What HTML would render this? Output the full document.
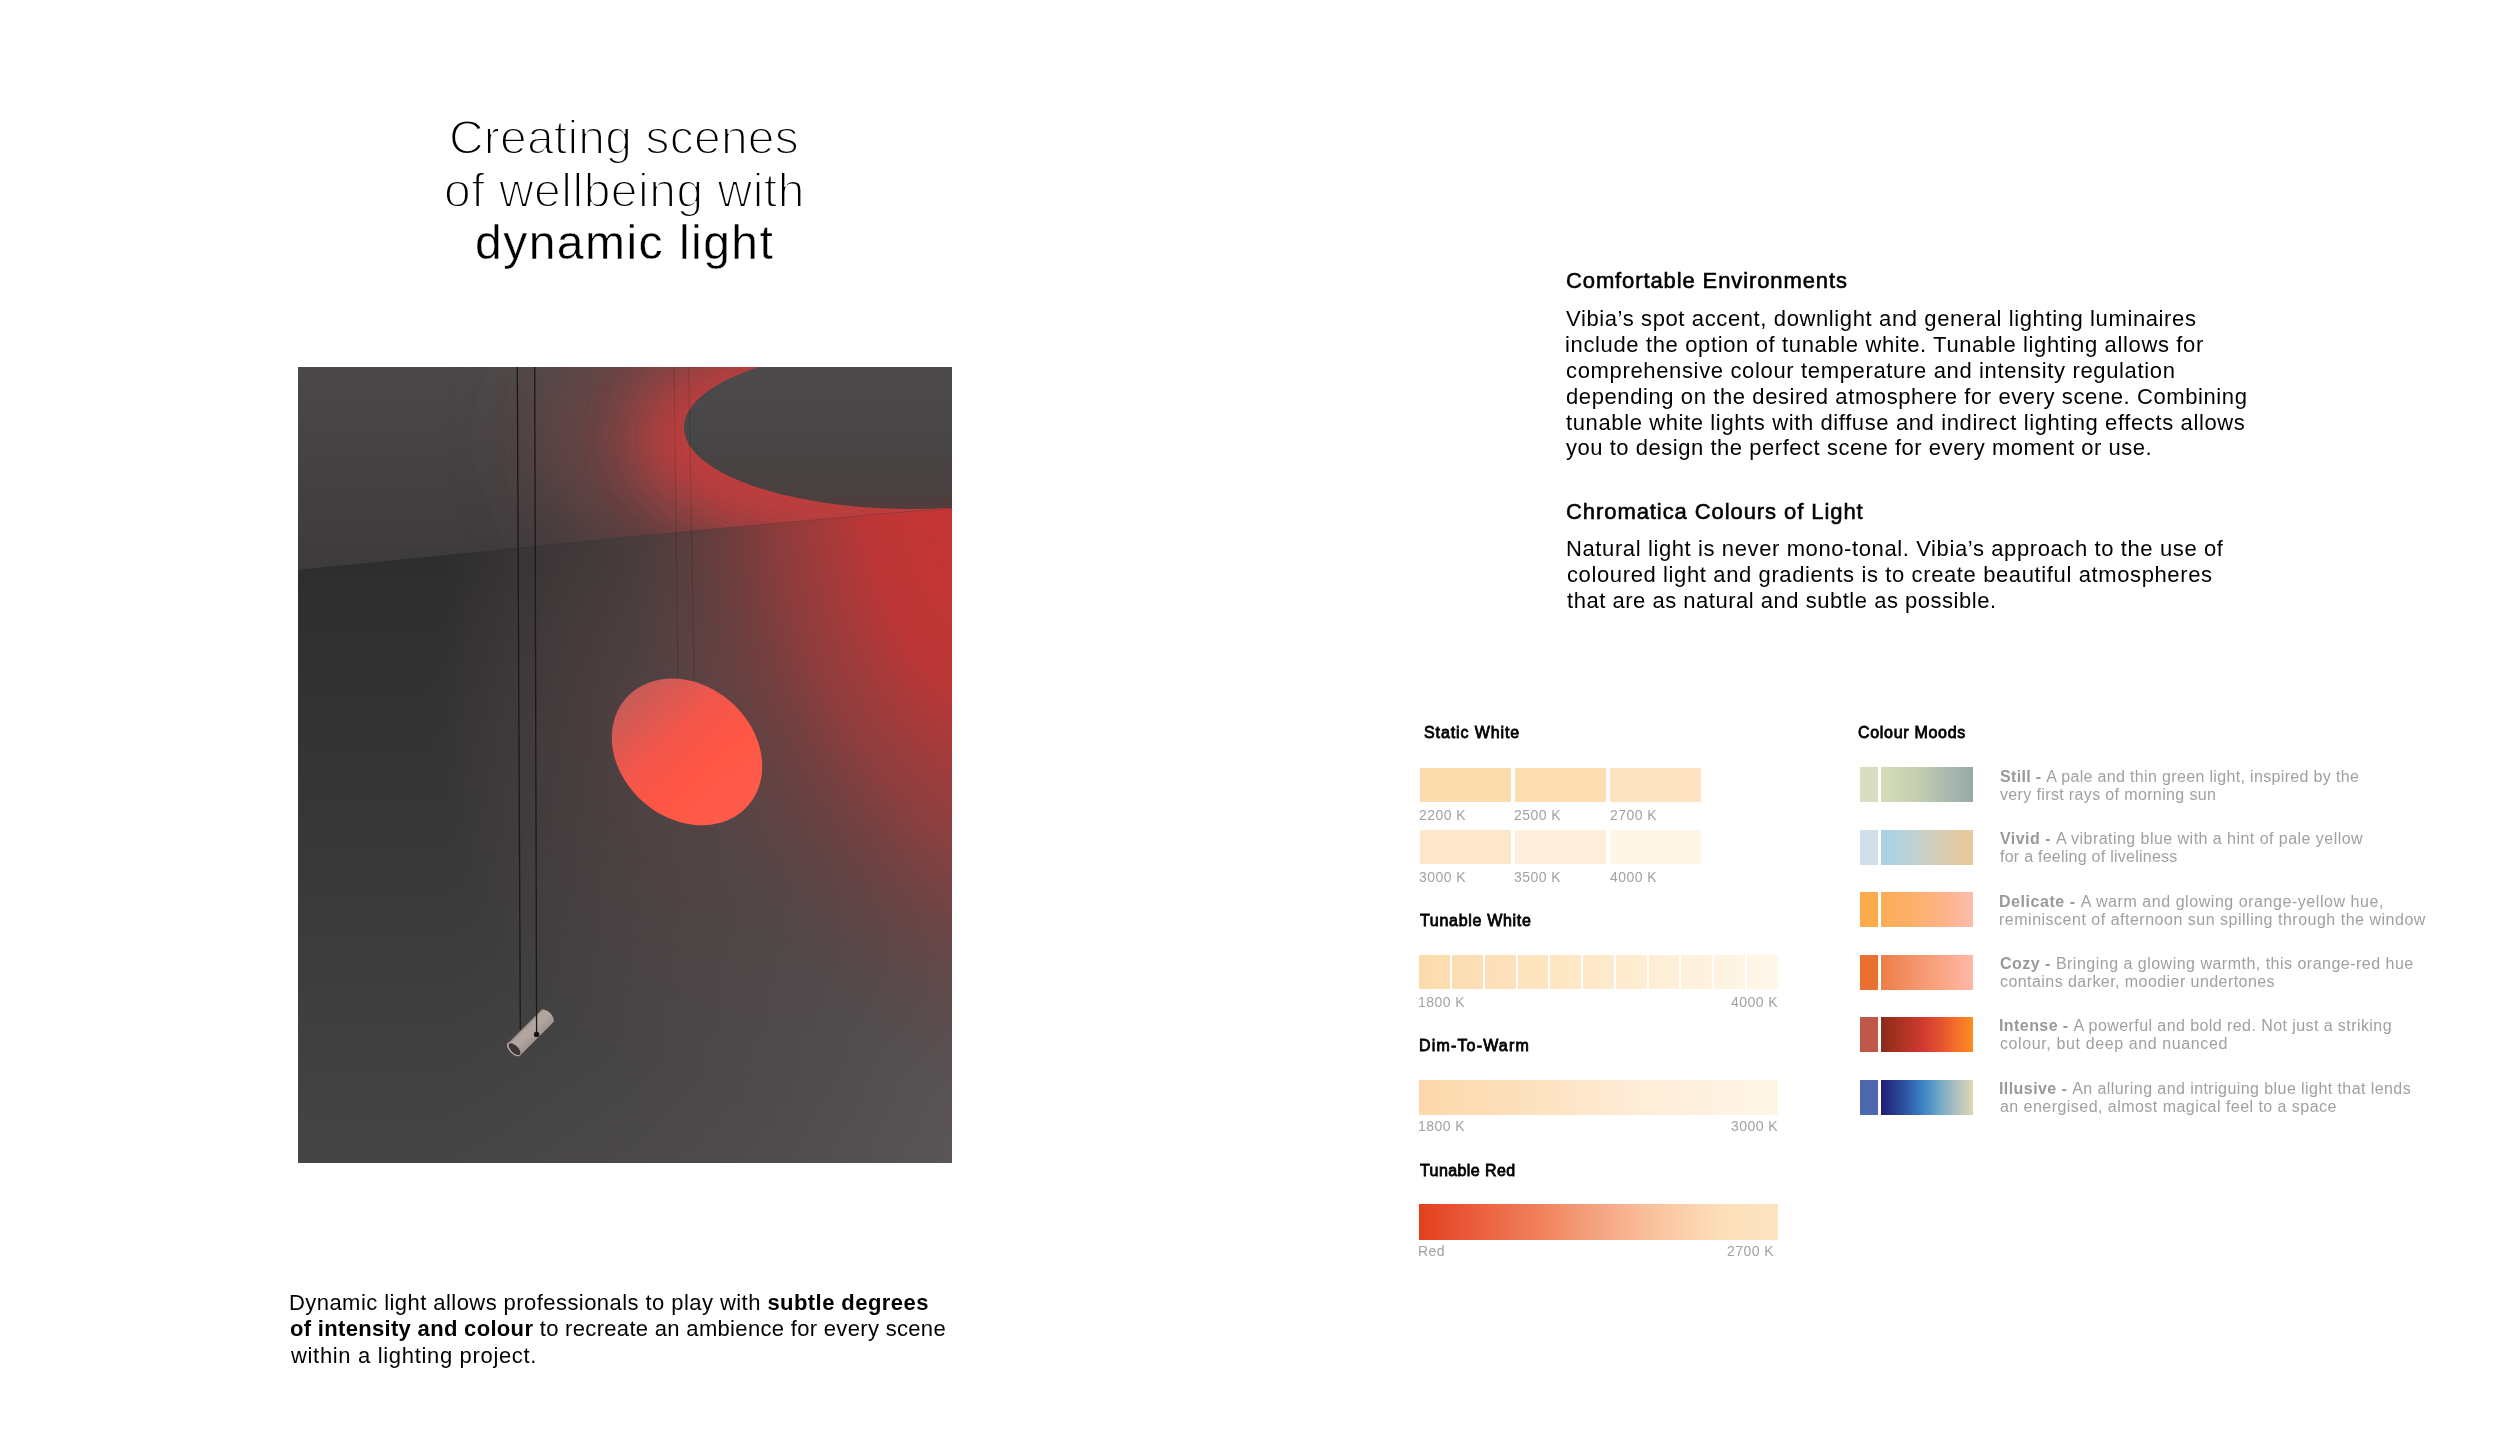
<!DOCTYPE html>
<html><head><meta charset="utf-8"><style>
html,body{margin:0;padding:0;background:#fff;}
body{width:2499px;height:1448px;position:relative;overflow:hidden;font-family:"Liberation Sans", sans-serif;}
.t{position:absolute;white-space:nowrap;will-change:transform;}
.b{position:absolute;}
</style></head><body>
<svg class="b" style="left:298px;top:367px" width="654" height="796" viewBox="0 0 654 796">
<defs>
  <linearGradient id="wallv" x1="0" y1="200" x2="0" y2="796" gradientUnits="userSpaceOnUse">
    <stop offset="0" stop-color="#2e2e2f"/>
    <stop offset="0.4" stop-color="#363637"/>
    <stop offset="1" stop-color="#464546"/>
  </linearGradient>
  <linearGradient id="wallh" x1="150" y1="0" x2="654" y2="0" gradientUnits="userSpaceOnUse">
    <stop offset="0" stop-color="#5a5052" stop-opacity="0"/>
    <stop offset="1" stop-color="#6e6466" stop-opacity="0.5"/>
  </linearGradient>
  <radialGradient id="warm" cx="430" cy="330" r="300" gradientUnits="userSpaceOnUse" gradientTransform="translate(430 330) scale(1 1.3) translate(-430 -330)">
    <stop offset="0" stop-color="#6a4a4a" stop-opacity="0.6"/>
    <stop offset="1" stop-color="#6a4a4a" stop-opacity="0"/>
  </radialGradient>
  <radialGradient id="wallred" cx="680" cy="160" r="360" gradientUnits="userSpaceOnUse" gradientTransform="translate(680 160) rotate(-14) scale(1 1.7) translate(-680 -160)">
    <stop offset="0" stop-color="#c83434" stop-opacity="1"/>
    <stop offset="0.3" stop-color="#c03636" stop-opacity="0.97"/>
    <stop offset="0.55" stop-color="#a43a3a" stop-opacity="0.72"/>
    <stop offset="0.8" stop-color="#7e3a3a" stop-opacity="0.3"/>
    <stop offset="1" stop-color="#6a3c3c" stop-opacity="0"/>
  </radialGradient>
  <linearGradient id="ceilg" x1="0" y1="0" x2="0" y2="200" gradientUnits="userSpaceOnUse">
    <stop offset="0" stop-color="#4c4849"/>
    <stop offset="1" stop-color="#3e3b3c"/>
  </linearGradient>
  <linearGradient id="discg" x1="0" y1="-20" x2="0" y2="142" gradientUnits="userSpaceOnUse">
    <stop offset="0" stop-color="#4d4b4b"/>
    <stop offset="0.6" stop-color="#474545"/>
    <stop offset="0.9" stop-color="#4a4040"/>
    <stop offset="1" stop-color="#523c3c"/>
  </linearGradient>
  <linearGradient id="redg" x1="330" y1="320" x2="430" y2="430" gradientUnits="userSpaceOnUse">
    <stop offset="0" stop-color="#c25c5a"/>
    <stop offset="0.45" stop-color="#f3564a"/>
    <stop offset="0.75" stop-color="#ff5544"/>
    <stop offset="1" stop-color="#ff5b4a"/>
  </linearGradient>
  <linearGradient id="cylg" x1="0" y1="-8.8" x2="0" y2="8.8" gradientUnits="userSpaceOnUse">
    <stop offset="0" stop-color="#8a7e7a"/>
    <stop offset="0.15" stop-color="#b0a49e"/>
    <stop offset="0.5" stop-color="#b2a6a0"/>
    <stop offset="1" stop-color="#a0948f"/>
  </linearGradient>
  <clipPath id="ceilclip"><path d="M0 0 H654 V141 Q420 160 0 203 Z"/></clipPath>
  <clipPath id="wallclip"><path d="M0 203 Q420 160 654 141 V796 H0 Z"/></clipPath>
  <filter id="bl50" x="-50%" y="-50%" width="200%" height="200%"><feGaussianBlur stdDeviation="55"/></filter>
  <filter id="bl28" x="-50%" y="-50%" width="200%" height="200%"><feGaussianBlur stdDeviation="28"/></filter>
  <filter id="bl40" x="-50%" y="-50%" width="200%" height="200%"><feGaussianBlur stdDeviation="40"/></filter>
  <filter id="bl20" x="-50%" y="-50%" width="200%" height="200%"><feGaussianBlur stdDeviation="22"/></filter>
  <filter id="bl1" x="-10%" y="-10%" width="120%" height="120%"><feGaussianBlur stdDeviation="0.8"/></filter>
</defs>
<rect width="654" height="796" fill="url(#wallv)"/>
<rect width="654" height="796" fill="url(#wallh)"/>
<rect width="654" height="796" fill="url(#warm)"/>
<rect width="654" height="796" fill="url(#wallred)"/>
<g clip-path="url(#ceilclip)">
  <rect width="654" height="210" fill="url(#ceilg)"/>
  <path d="M940.00 70.00 L939.53 78.90 L938.14 87.77 L935.81 96.59 L932.57 105.34 L928.41 114.00 L923.36 122.53 L917.42 130.92 L910.61 139.15 L902.94 147.18 L894.45 155.00 L885.15 162.59 L875.07 169.92 L864.23 176.98 L852.67 183.75 L840.42 190.21 L827.50 196.33 L813.97 202.11 L799.85 207.53 L785.18 212.57 L770.00 217.22 L754.36 221.47 L738.29 225.30 L721.85 228.71 L705.07 231.68 L688.00 234.21 L670.69 236.29 L653.19 237.91 L635.54 239.07 L617.79 239.77 L600.00 240.00 L582.21 239.77 L564.46 239.07 L546.81 237.91 L529.31 236.29 L512.00 234.21 L494.93 231.68 L478.15 228.71 L461.71 225.30 L445.64 221.47 L430.00 217.22 L414.82 212.57 L400.15 207.53 L386.03 202.11 L372.50 196.33 L359.58 190.21 L347.33 183.75 L335.77 176.98 L324.93 169.92 L314.85 162.59 L305.55 155.00 L297.06 147.18 L289.39 139.15 L282.58 130.92 L276.64 122.53 L271.59 114.00 L267.43 105.34 L264.19 96.59 L261.86 87.77 L260.47 78.90 L260.00 70.00 L260.47 61.10 L261.86 52.23 L264.19 43.41 L267.43 34.66 L271.59 26.00 L276.64 17.47 L282.58 9.08 L289.39 0.85 L297.06 -7.18 L305.55 -15.00 L314.85 -22.59 L324.93 -29.92 L335.77 -36.98 L347.33 -43.75 L359.58 -50.21 L372.50 -56.33 L386.03 -62.11 L400.15 -67.53 L414.82 -72.57 L430.00 -77.22 L445.64 -81.47 L461.71 -85.30 L478.15 -88.71 L494.93 -91.68 L512.00 -94.21 L529.31 -96.29 L546.81 -97.91 L564.46 -99.07 L582.21 -99.77 L600.00 -100.00 L617.79 -99.77 L635.54 -99.07 L653.19 -97.91 L670.69 -96.29 L688.00 -94.21 L705.07 -91.68 L721.85 -88.71 L738.29 -85.30 L754.36 -81.47 L770.00 -77.22 L785.18 -72.57 L799.85 -67.53 L813.97 -62.11 L827.50 -56.33 L840.42 -50.21 L852.67 -43.75 L864.23 -36.98 L875.07 -29.92 L885.15 -22.59 L894.45 -15.00 L902.94 -7.18 L910.61 0.85 L917.42 9.08 L923.36 17.47 L928.41 26.00 L932.57 34.66 L935.81 43.41 L938.14 52.23 L939.53 61.10 Z" fill="#8e4444" filter="url(#bl50)" opacity="0.75"/>
  <path d="M886.00 72.00 L885.63 78.18 L884.51 84.33 L882.65 90.46 L880.06 96.53 L876.73 102.54 L872.69 108.46 L867.93 114.29 L862.48 119.99 L856.35 125.57 L849.56 131.00 L842.12 136.27 L834.05 141.36 L825.38 146.26 L816.14 150.96 L806.33 155.44 L796.00 159.69 L785.18 163.70 L773.88 167.46 L762.14 170.96 L750.00 174.19 L737.49 177.14 L724.63 179.80 L711.48 182.16 L698.05 184.22 L684.40 185.98 L670.55 187.42 L656.55 188.55 L642.43 189.35 L628.24 189.84 L614.00 190.00 L599.76 189.84 L585.57 189.35 L571.45 188.55 L557.45 187.42 L543.60 185.98 L529.95 184.22 L516.52 182.16 L503.37 179.80 L490.51 177.14 L478.00 174.19 L465.86 170.96 L454.12 167.46 L442.82 163.70 L432.00 159.69 L421.67 155.44 L411.86 150.96 L402.62 146.26 L393.95 141.36 L385.88 136.27 L378.44 131.00 L371.65 125.57 L365.52 119.99 L360.07 114.29 L355.31 108.46 L351.27 102.54 L347.94 96.53 L345.35 90.46 L343.49 84.33 L342.37 78.18 L342.00 72.00 L342.37 65.82 L343.49 59.67 L345.35 53.54 L347.94 47.47 L351.27 41.46 L355.31 35.54 L360.07 29.71 L365.52 24.01 L371.65 18.43 L378.44 13.00 L385.88 7.73 L393.95 2.64 L402.62 -2.26 L411.86 -6.96 L421.67 -11.44 L432.00 -15.69 L442.82 -19.70 L454.12 -23.46 L465.86 -26.96 L478.00 -30.19 L490.51 -33.14 L503.37 -35.80 L516.52 -38.16 L529.95 -40.22 L543.60 -41.98 L557.45 -43.42 L571.45 -44.55 L585.57 -45.35 L599.76 -45.84 L614.00 -46.00 L628.24 -45.84 L642.43 -45.35 L656.55 -44.55 L670.55 -43.42 L684.40 -41.98 L698.05 -40.22 L711.48 -38.16 L724.63 -35.80 L737.49 -33.14 L750.00 -30.19 L762.14 -26.96 L773.88 -23.46 L785.18 -19.70 L796.00 -15.69 L806.33 -11.44 L816.14 -6.96 L825.38 -2.26 L834.05 2.64 L842.12 7.73 L849.56 13.00 L856.35 18.43 L862.48 24.01 L867.93 29.71 L872.69 35.54 L876.73 41.46 L880.06 47.47 L882.65 53.54 L884.51 59.67 L885.63 65.82 Z" fill="#c43c3c" filter="url(#bl28)" opacity="0.95"/>
  <path d="M842.00 60.50 L841.69 64.77 L840.75 69.02 L839.19 73.25 L837.02 77.44 L834.23 81.59 L830.84 85.68 L826.86 89.71 L822.29 93.65 L817.15 97.50 L811.45 101.25 L805.22 104.89 L798.46 108.40 L791.19 111.79 L783.44 115.03 L775.22 118.13 L766.56 121.07 L757.49 123.84 L748.02 126.43 L738.18 128.85 L728.00 131.08 L717.51 133.12 L706.74 134.95 L695.71 136.59 L684.46 138.01 L673.01 139.22 L661.40 140.22 L649.67 141.00 L637.83 141.55 L625.93 141.89 L614.00 142.00 L602.07 141.89 L590.17 141.55 L578.33 141.00 L566.60 140.22 L554.99 139.22 L543.54 138.01 L532.29 136.59 L521.26 134.95 L510.49 133.12 L500.00 131.08 L489.82 128.85 L479.98 126.43 L470.51 123.84 L461.44 121.07 L452.78 118.13 L444.56 115.03 L436.81 111.79 L429.54 108.40 L422.78 104.89 L416.55 101.25 L410.85 97.50 L405.71 93.65 L401.14 89.71 L397.16 85.68 L393.77 81.59 L390.98 77.44 L388.81 73.25 L387.25 69.02 L386.31 64.77 L386.00 60.50 L386.31 56.23 L387.25 51.98 L388.81 47.75 L390.98 43.56 L393.77 39.41 L397.16 35.32 L401.14 31.29 L405.71 27.35 L410.85 23.50 L416.55 19.75 L422.78 16.11 L429.54 12.60 L436.81 9.21 L444.56 5.97 L452.78 2.87 L461.44 -0.07 L470.51 -2.84 L479.98 -5.43 L489.82 -7.85 L500.00 -10.08 L510.49 -12.12 L521.26 -13.95 L532.29 -15.59 L543.54 -17.01 L554.99 -18.22 L566.60 -19.22 L578.33 -20.00 L590.17 -20.55 L602.07 -20.89 L614.00 -21.00 L625.93 -20.89 L637.83 -20.55 L649.67 -20.00 L661.40 -19.22 L673.01 -18.22 L684.46 -17.01 L695.71 -15.59 L706.74 -13.95 L717.51 -12.12 L728.00 -10.08 L738.18 -7.85 L748.02 -5.43 L757.49 -2.84 L766.56 -0.07 L775.22 2.87 L783.44 5.97 L791.19 9.21 L798.46 12.60 L805.22 16.11 L811.45 19.75 L817.15 23.50 L822.29 27.35 L826.86 31.29 L830.84 35.32 L834.23 39.41 L837.02 43.56 L839.19 47.75 L840.75 51.98 L841.69 56.23 Z" fill="url(#discg)"/>
</g>
<path d="M0 203 Q420 160 654 141" stroke="#1e1e1e" stroke-opacity="0.12" stroke-width="1" fill="none"/>
<path d="M450.08 438.56 L447.70 441.10 L445.16 443.49 L442.46 445.71 L439.62 447.77 L436.64 449.66 L433.53 451.37 L430.29 452.90 L426.95 454.24 L423.50 455.39 L419.95 456.35 L416.32 457.11 L412.61 457.68 L408.85 458.04 L405.02 458.20 L401.15 458.17 L397.25 457.93 L393.33 457.49 L389.39 456.86 L385.46 456.02 L381.53 454.99 L377.62 453.77 L373.75 452.36 L369.91 450.77 L366.13 449.00 L362.41 447.04 L358.77 444.92 L355.20 442.64 L351.73 440.19 L348.37 437.60 L345.11 434.86 L341.97 431.98 L338.97 428.98 L336.10 425.85 L333.37 422.61 L330.80 419.27 L328.38 415.83 L326.14 412.31 L324.06 408.72 L322.16 405.05 L320.45 401.34 L318.93 397.57 L317.59 393.78 L316.45 389.96 L315.51 386.12 L314.78 382.28 L314.24 378.45 L313.91 374.64 L313.79 370.85 L313.87 367.11 L314.16 363.41 L314.65 359.77 L315.35 356.20 L316.25 352.71 L317.35 349.31 L318.64 346.00 L320.13 342.80 L321.81 339.72 L323.67 336.76 L325.71 333.93 L327.92 331.24 L330.30 328.70 L332.84 326.31 L335.54 324.09 L338.38 322.03 L341.36 320.14 L344.47 318.43 L347.71 316.90 L351.05 315.56 L354.50 314.41 L358.05 313.45 L361.68 312.69 L365.39 312.12 L369.15 311.76 L372.98 311.60 L376.85 311.63 L380.75 311.87 L384.67 312.31 L388.61 312.94 L392.54 313.78 L396.47 314.81 L400.38 316.03 L404.25 317.44 L408.09 319.03 L411.87 320.80 L415.59 322.76 L419.23 324.88 L422.80 327.16 L426.27 329.61 L429.63 332.20 L432.89 334.94 L436.03 337.82 L439.03 340.82 L441.90 343.95 L444.63 347.19 L447.20 350.53 L449.62 353.97 L451.86 357.49 L453.94 361.08 L455.84 364.75 L457.55 368.46 L459.07 372.23 L460.41 376.02 L461.55 379.84 L462.49 383.68 L463.22 387.52 L463.76 391.35 L464.09 395.16 L464.21 398.95 L464.13 402.69 L463.84 406.39 L463.35 410.03 L462.65 413.60 L461.75 417.09 L460.65 420.49 L459.36 423.80 L457.87 427.00 L456.19 430.08 L454.33 433.04 L452.29 435.87 Z" fill="url(#redg)"/>
<path d="M219.3 0 L222.3 663" stroke="#1a1a1a" stroke-width="1.3" fill="none"/>
<path d="M376 0 L380 312" stroke="#000" stroke-opacity="0.15" stroke-width="1" fill="none"/>
<path d="M390.7 0 L396 312" stroke="#000" stroke-opacity="0.15" stroke-width="1" fill="none"/>
<g transform="translate(234 664.2) rotate(-45)">
  <path d="M-25.6 -8.8 H21 A4.6 8.8 0 0 1 21 8.8 H-25.6 Z" fill="url(#cylg)"/>
  <path d="M-25.6 -8.8 H21" stroke="#3a3232" stroke-width="0.8" stroke-opacity="0.6" fill="none"/>
  <ellipse cx="-25.6" cy="0" rx="4.4" ry="8.8" fill="#b4a8a2"/>
  <ellipse cx="-25" cy="0.3" rx="3.6" ry="7.6" fill="#3e3636"/>
</g>
<path d="M236.7 0 L238.6 667" stroke="#1a1a1a" stroke-width="1.3" fill="none"/>
<circle cx="238.6" cy="667.4" r="2.7" fill="#111"/>
</svg>
<div class="b" style="left:1419.5px;top:768px;width:91.0px;height:34px;background:#fcdbad"></div>
<div class="b" style="left:1515px;top:768px;width:91px;height:34px;background:#fdddb2"></div>
<div class="b" style="left:1610.3px;top:768px;width:91.0px;height:34px;background:#fde3c2"></div>
<div class="b" style="left:1419.5px;top:830px;width:91.0px;height:34px;background:#fde7ca"></div>
<div class="b" style="left:1515px;top:830px;width:91px;height:34px;background:#feefdc"></div>
<div class="b" style="left:1610.3px;top:830px;width:91.0px;height:34px;background:#fff6e8"></div>
<div class="b" style="left:1419.2px;top:955px;width:30.779999999999973px;height:34px;background:linear-gradient(90deg,rgb(253,218,171),rgb(253,221,177))"></div>
<div class="b" style="left:1451.98px;top:955px;width:30.779999999999973px;height:34px;background:linear-gradient(90deg,rgb(253,221,177),rgb(253,223,182))"></div>
<div class="b" style="left:1484.76px;top:955px;width:30.789999999999964px;height:34px;background:linear-gradient(90deg,rgb(253,223,182),rgb(254,226,188))"></div>
<div class="b" style="left:1517.55px;top:955px;width:30.779999999999973px;height:34px;background:linear-gradient(90deg,rgb(254,226,188),rgb(254,229,194))"></div>
<div class="b" style="left:1550.33px;top:955px;width:30.779999999999973px;height:34px;background:linear-gradient(90deg,rgb(254,229,194),rgb(254,232,200))"></div>
<div class="b" style="left:1583.11px;top:955px;width:30.7800000000002px;height:34px;background:linear-gradient(90deg,rgb(254,232,200),rgb(254,234,205))"></div>
<div class="b" style="left:1615.89px;top:955px;width:30.779999999999973px;height:34px;background:linear-gradient(90deg,rgb(254,234,205),rgb(254,237,211))"></div>
<div class="b" style="left:1648.67px;top:955px;width:30.779999999999973px;height:34px;background:linear-gradient(90deg,rgb(254,237,211),rgb(254,240,217))"></div>
<div class="b" style="left:1681.45px;top:955px;width:30.789999999999964px;height:34px;background:linear-gradient(90deg,rgb(254,240,217),rgb(255,243,223))"></div>
<div class="b" style="left:1714.24px;top:955px;width:30.779999999999973px;height:34px;background:linear-gradient(90deg,rgb(255,243,223),rgb(255,245,228))"></div>
<div class="b" style="left:1747.02px;top:955px;width:30.779999999999973px;height:34px;background:linear-gradient(90deg,rgb(255,245,228),rgb(255,248,234))"></div>
<div class="b" style="left:1419.2px;top:1080px;width:358.5999999999999px;height:35px;background:linear-gradient(90deg,#fdd7aa 0%,#fde1bd 30%,#feecd6 60%,#fff6e8 100%)"></div>
<div class="b" style="left:1419.2px;top:1204px;width:358.5999999999999px;height:36px;background:linear-gradient(90deg,#e2401e 0%,#ea5c3c 15%,#f0845e 35%,#f5a482 50%,#fac7a2 68%,#fde0bb 85%,#fde3c0 100%)"></div>
<div class="b" style="left:1860px;top:767px;width:18px;height:35px;background:#dadcc4"></div>
<div class="b" style="left:1881px;top:767px;width:92px;height:35px;background:linear-gradient(90deg,#d6ddb4 0%,#c4cfb2 40%,#b0beaf 65%,#98aaa8 100%)"></div>
<div class="b" style="left:1860px;top:830px;width:18px;height:35px;background:#d0dfe9"></div>
<div class="b" style="left:1881px;top:830px;width:92px;height:35px;background:linear-gradient(90deg,#a6d2ea 0%,#bad2d6 30%,#cdd0c2 50%,#dccbaa 75%,#eac898 100%)"></div>
<div class="b" style="left:1860px;top:892px;width:18px;height:35px;background:#fdaa4c"></div>
<div class="b" style="left:1881px;top:892px;width:92px;height:35px;background:linear-gradient(90deg,#fdac56 0%,#fdb06e 40%,#fdb48a 70%,#fdbcac 100%)"></div>
<div class="b" style="left:1860px;top:955px;width:18px;height:35px;background:#ea7030"></div>
<div class="b" style="left:1881px;top:955px;width:92px;height:35px;background:linear-gradient(90deg,#ec7e46 0%,#f3936a 35%,#fba888 70%,#feb8a8 100%)"></div>
<div class="b" style="left:1860px;top:1017px;width:18px;height:35px;background:#c0584a"></div>
<div class="b" style="left:1881px;top:1017px;width:92px;height:35px;background:linear-gradient(90deg,#8c2a18 0%,#b03424 25%,#d03a30 45%,#e4522e 65%,#f6742a 85%,#fe8c1a 100%)"></div>
<div class="b" style="left:1860px;top:1080px;width:18px;height:35px;background:#4e68b0"></div>
<div class="b" style="left:1881px;top:1080px;width:92px;height:35px;background:linear-gradient(90deg,#221c70 0%,#2a4a9a 22%,#3a82c4 45%,#6aa6c8 62%,#a8bebe 80%,#e0d8b4 100%)"></div>
<div class="t" style="left:448.90px;top:114px;line-height:48px;letter-spacing:0.203px"><span style="font-weight:normal;font-size:48px;color:#000;-webkit-text-stroke:1.8px #fff;">Creating scenes</span></div>
<div class="t" style="left:444.10px;top:167px;line-height:48px;letter-spacing:0.512px"><span style="font-weight:normal;font-size:48px;color:#000;-webkit-text-stroke:1.8px #fff;">of wellbeing with</span></div>
<div class="t" style="left:475.00px;top:219px;line-height:48px;letter-spacing:1.476px"><span style="font-weight:normal;font-size:48px;color:#000;-webkit-text-stroke:0.4px #fff;">dynamic light</span></div>
<div class="t" style="left:1565.60px;top:270px;line-height:22px;letter-spacing:0.889px"><span style="font-weight:normal;font-size:22px;color:#000;-webkit-text-stroke:0.6px #000;">Comfortable Environments</span></div>
<div class="t" style="left:1566.00px;top:308px;line-height:22px;letter-spacing:0.616px"><span style="font-weight:normal;font-size:22px;color:#000;">Vibia’s spot accent, downlight and general lighting luminaires</span></div>
<div class="t" style="left:1565.00px;top:334px;line-height:22px;letter-spacing:0.638px"><span style="font-weight:normal;font-size:22px;color:#000;">include the option of tunable white. Tunable lighting allows for</span></div>
<div class="t" style="left:1566.00px;top:360px;line-height:22px;letter-spacing:0.654px"><span style="font-weight:normal;font-size:22px;color:#000;">comprehensive colour temperature and intensity regulation</span></div>
<div class="t" style="left:1566.00px;top:386px;line-height:22px;letter-spacing:0.597px"><span style="font-weight:normal;font-size:22px;color:#000;">depending on the desired atmosphere for every scene. Combining</span></div>
<div class="t" style="left:1566.00px;top:412px;line-height:22px;letter-spacing:0.615px"><span style="font-weight:normal;font-size:22px;color:#000;">tunable white lights with diffuse and indirect lighting effects allows</span></div>
<div class="t" style="left:1566.00px;top:437px;line-height:22px;letter-spacing:0.533px"><span style="font-weight:normal;font-size:22px;color:#000;">you to design the perfect scene for every moment or use.</span></div>
<div class="t" style="left:1565.60px;top:501px;line-height:22px;letter-spacing:0.924px"><span style="font-weight:normal;font-size:22px;color:#000;-webkit-text-stroke:0.6px #000;">Chromatica Colours of Light</span></div>
<div class="t" style="left:1565.60px;top:538px;line-height:22px;letter-spacing:0.608px"><span style="font-weight:normal;font-size:22px;color:#000;">Natural light is never mono-tonal. Vibia’s approach to the use of</span></div>
<div class="t" style="left:1566.60px;top:564px;line-height:22px;letter-spacing:0.620px"><span style="font-weight:normal;font-size:22px;color:#000;">coloured light and gradients is to create beautiful atmospheres</span></div>
<div class="t" style="left:1566.60px;top:590px;line-height:22px;letter-spacing:0.518px"><span style="font-weight:normal;font-size:22px;color:#000;">that are as natural and subtle as possible.</span></div>
<div class="t" style="left:289.20px;top:1292px;line-height:22px;letter-spacing:0.439px"><span style="font-weight:normal;font-size:22px;color:#000;">Dynamic light allows professionals to play with </span><span style="font-weight:bold;font-size:22px;color:#000;">subtle degrees</span></div>
<div class="t" style="left:290.20px;top:1318px;line-height:22px;letter-spacing:0.320px"><span style="font-weight:bold;font-size:22px;color:#000;">of intensity and colour</span><span style="font-weight:normal;font-size:22px;color:#000;"> to recreate an ambience for every scene</span></div>
<div class="t" style="left:291.20px;top:1345px;line-height:22px;letter-spacing:0.669px"><span style="font-weight:normal;font-size:22px;color:#000;">within a lighting project.</span></div>
<div class="t" style="left:1423.70px;top:725px;line-height:16px;letter-spacing:0.894px"><span style="font-weight:normal;font-size:16px;color:#000;-webkit-text-stroke:0.8px #000;">Static White</span></div>
<div class="t" style="left:1419.90px;top:913px;line-height:16px;letter-spacing:0.694px"><span style="font-weight:normal;font-size:16px;color:#000;-webkit-text-stroke:0.8px #000;">Tunable White</span></div>
<div class="t" style="left:1418.90px;top:1038px;line-height:16px;letter-spacing:1.167px"><span style="font-weight:normal;font-size:16px;color:#000;-webkit-text-stroke:0.8px #000;">Dim-To-Warm</span></div>
<div class="t" style="left:1419.90px;top:1163px;line-height:16px;letter-spacing:0.417px"><span style="font-weight:normal;font-size:16px;color:#000;-webkit-text-stroke:0.8px #000;">Tunable Red</span></div>
<div class="t" style="left:1858.00px;top:725px;line-height:16px;letter-spacing:0.700px"><span style="font-weight:normal;font-size:16px;color:#000;-webkit-text-stroke:0.8px #000;">Colour Moods</span></div>
<div class="t" style="left:1418.80px;top:808px;line-height:14px;letter-spacing:0.450px"><span style="font-weight:normal;font-size:14px;color:#a2a2a2;">2200 K</span></div>
<div class="t" style="left:1514.20px;top:808px;line-height:14px;letter-spacing:0.450px"><span style="font-weight:normal;font-size:14px;color:#a2a2a2;">2500 K</span></div>
<div class="t" style="left:1609.50px;top:808px;line-height:14px;letter-spacing:0.450px"><span style="font-weight:normal;font-size:14px;color:#a2a2a2;">2700 K</span></div>
<div class="t" style="left:1418.80px;top:870px;line-height:14px;letter-spacing:0.450px"><span style="font-weight:normal;font-size:14px;color:#a2a2a2;">3000 K</span></div>
<div class="t" style="left:1514.20px;top:870px;line-height:14px;letter-spacing:0.450px"><span style="font-weight:normal;font-size:14px;color:#a2a2a2;">3500 K</span></div>
<div class="t" style="left:1609.50px;top:870px;line-height:14px;letter-spacing:0.450px"><span style="font-weight:normal;font-size:14px;color:#a2a2a2;">4000 K</span></div>
<div class="t" style="left:1417.90px;top:995px;line-height:14px;letter-spacing:0.450px"><span style="font-weight:normal;font-size:14px;color:#a2a2a2;">1800 K</span></div>
<div class="t" style="left:1730.52px;top:995px;line-height:14px;letter-spacing:0.450px"><span style="font-weight:normal;font-size:14px;color:#a2a2a2;">4000 K</span></div>
<div class="t" style="left:1417.90px;top:1119px;line-height:14px;letter-spacing:0.450px"><span style="font-weight:normal;font-size:14px;color:#a2a2a2;">1800 K</span></div>
<div class="t" style="left:1730.52px;top:1119px;line-height:14px;letter-spacing:0.450px"><span style="font-weight:normal;font-size:14px;color:#a2a2a2;">3000 K</span></div>
<div class="t" style="left:1417.90px;top:1244px;line-height:14px;letter-spacing:0.450px"><span style="font-weight:normal;font-size:14px;color:#a2a2a2;">Red</span></div>
<div class="t" style="left:1727.12px;top:1244px;line-height:14px;letter-spacing:0.450px"><span style="font-weight:normal;font-size:14px;color:#a2a2a2;">2700 K</span></div>
<div class="t" style="left:2000.00px;top:769px;line-height:16px;letter-spacing:0.339px"><span style="font-weight:bold;font-size:16px;color:#999;">Still - </span><span style="font-weight:normal;font-size:16px;color:#a0a0a0;">A pale and thin green light, inspired by the</span></div>
<div class="t" style="left:2000.00px;top:787px;line-height:16px;letter-spacing:0.362px"><span style="font-weight:normal;font-size:16px;color:#a0a0a0;">very first rays of morning sun</span></div>
<div class="t" style="left:2000.00px;top:831px;line-height:16px;letter-spacing:0.463px"><span style="font-weight:bold;font-size:16px;color:#999;">Vivid - </span><span style="font-weight:normal;font-size:16px;color:#a0a0a0;">A vibrating blue with a hint of pale yellow</span></div>
<div class="t" style="left:2000.00px;top:849px;line-height:16px;letter-spacing:0.252px"><span style="font-weight:normal;font-size:16px;color:#a0a0a0;">for a feeling of liveliness</span></div>
<div class="t" style="left:1999.00px;top:894px;line-height:16px;letter-spacing:0.552px"><span style="font-weight:bold;font-size:16px;color:#999;">Delicate - </span><span style="font-weight:normal;font-size:16px;color:#a0a0a0;">A warm and glowing orange-yellow hue,</span></div>
<div class="t" style="left:1999.00px;top:912px;line-height:16px;letter-spacing:0.507px"><span style="font-weight:normal;font-size:16px;color:#a0a0a0;">reminiscent of afternoon sun spilling through the window</span></div>
<div class="t" style="left:2000.00px;top:956px;line-height:16px;letter-spacing:0.490px"><span style="font-weight:bold;font-size:16px;color:#999;">Cozy - </span><span style="font-weight:normal;font-size:16px;color:#a0a0a0;">Bringing a glowing warmth, this orange-red hue</span></div>
<div class="t" style="left:2000.00px;top:974px;line-height:16px;letter-spacing:0.438px"><span style="font-weight:normal;font-size:16px;color:#a0a0a0;">contains darker, moodier undertones</span></div>
<div class="t" style="left:1999.00px;top:1018px;line-height:16px;letter-spacing:0.426px"><span style="font-weight:bold;font-size:16px;color:#999;">Intense - </span><span style="font-weight:normal;font-size:16px;color:#a0a0a0;">A powerful and bold red. Not just a striking</span></div>
<div class="t" style="left:2000.00px;top:1036px;line-height:16px;letter-spacing:0.613px"><span style="font-weight:normal;font-size:16px;color:#a0a0a0;">colour, but deep and nuanced</span></div>
<div class="t" style="left:1999.00px;top:1081px;line-height:16px;letter-spacing:0.427px"><span style="font-weight:bold;font-size:16px;color:#999;">Illusive - </span><span style="font-weight:normal;font-size:16px;color:#a0a0a0;">An alluring and intriguing blue light that lends</span></div>
<div class="t" style="left:2000.00px;top:1099px;line-height:16px;letter-spacing:0.460px"><span style="font-weight:normal;font-size:16px;color:#a0a0a0;">an energised, almost magical feel to a space</span></div>
</body></html>
